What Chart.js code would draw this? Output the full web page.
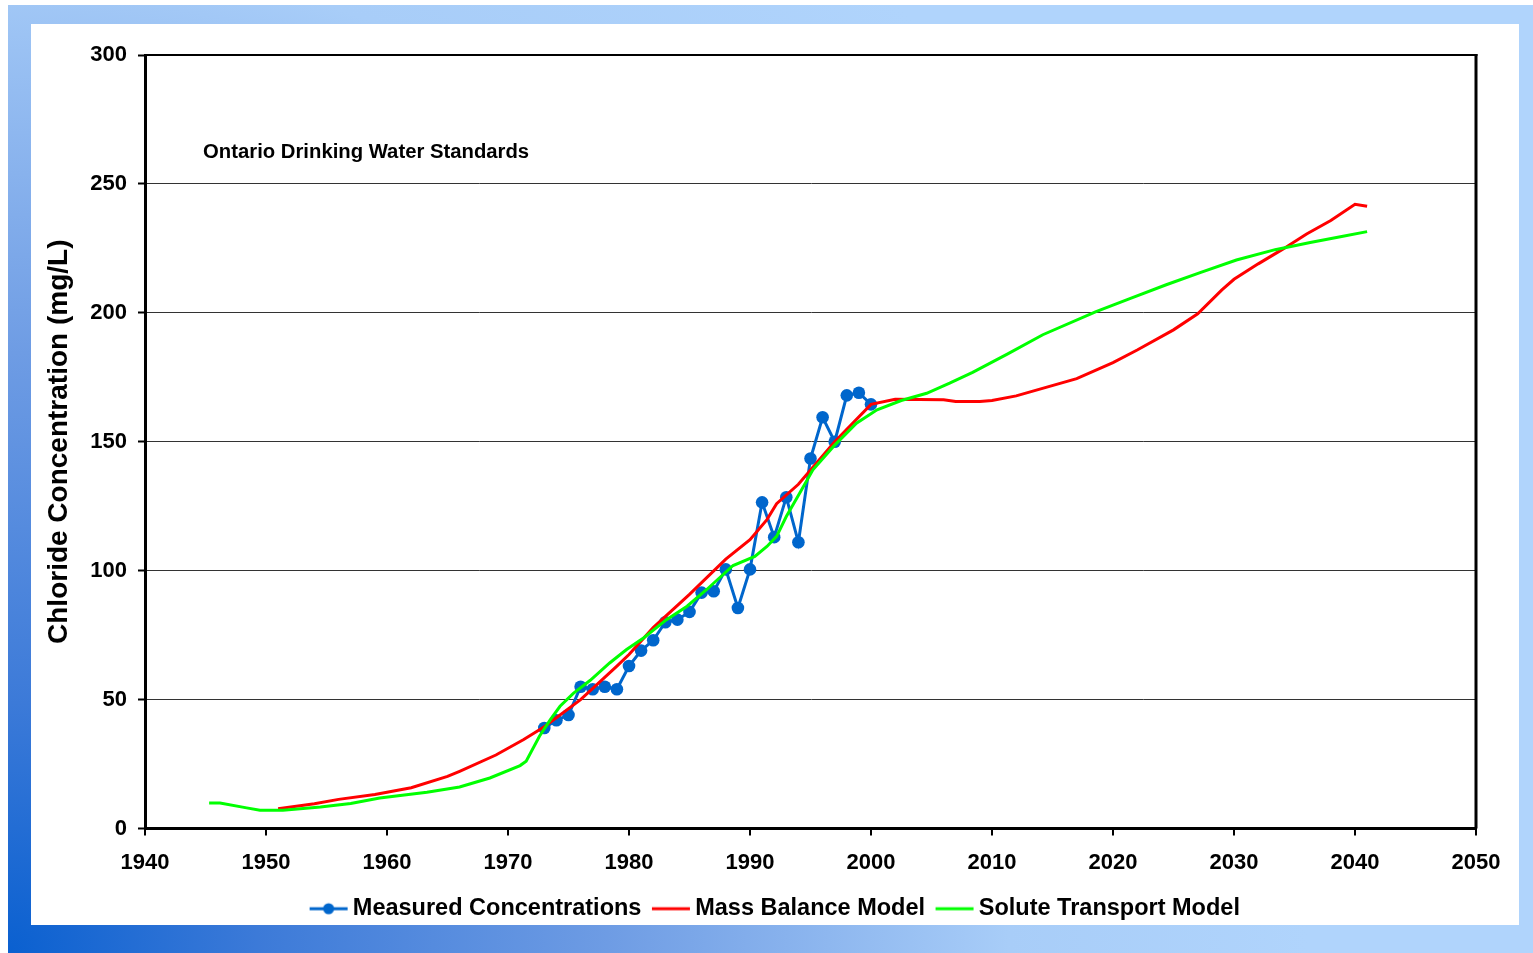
<!DOCTYPE html>
<html>
<head>
<meta charset="utf-8">
<title>Chloride Concentration</title>
<script src="https://cdn.jsdelivr.net/npm/chart.js@4.4.1/dist/chart.umd.min.js"></script>
<style>
  html, body { margin: 0; padding: 0; width: 1533px; height: 953px; overflow: hidden; background: #fff; }
  #frame {
    position: absolute; left: 8px; top: 5px; width: 1525px; height: 948px;
    background: radial-gradient(circle 1400px at 0% 100%, #0a60d0 0px, #3c7ad8 250px, #6e9ce4 600px, #a8cdf8 1000px, #b0d4fc 1300px);
  }
  #panel { position: absolute; left: 31px; top: 24px; width: 1488px; height: 901px; background: #fff; }
  #chart { position: absolute; left: 0; top: 0; }
</style>
</head>
<body>
<div id="frame"></div>
<div id="panel"></div>
<canvas id="chart" width="1533" height="953"></canvas>
<script>
// Measured chloride concentrations (mg/L), one sample per year
const measuredYears = [1973, 1974, 1975, 1976, 1977, 1978, 1979, 1980, 1981, 1982, 1983, 1984, 1985, 1986,
                       1987, 1988, 1989, 1990, 1991, 1992, 1993, 1994, 1995, 1996, 1997, 1998, 1999, 2000];
const measuredValues = [39, 42, 44, 55, 54, 55, 54, 63, 69, 73, 80, 81, 84, 91.5,
                        92, 100.5, 85.5, 100.5, 126.5, 113, 128.5, 111, 143.5, 159.5, 150, 168, 169, 164.5];

// Mass balance model prediction
const massBalanceYears = [1951, 1954, 1956, 1959, 1962, 1965, 1966, 1969, 1971.3, 1973, 1976, 1979, 1980, 1982,
                          1985, 1988, 1990, 1991.4, 1992.2, 1994, 1997, 2000, 2002, 2006, 2007, 2009, 2010, 2012,
                          2017, 2020, 2022, 2025, 2027, 2029, 2030, 2032, 2034, 2036, 2038, 2040, 2041];
const massBalanceValues = [7.7, 9.6, 11.3, 13.2, 15.8, 20.2, 22.2, 28.5, 34.5, 39.5, 50, 63, 67.5, 77.9,
                           90.8, 104.5, 112, 119.8, 126, 133.5, 150, 164.5, 166.5, 166.3, 165.6, 165.6, 166, 167.8,
                           174.5, 180.7, 185.6, 193.4, 199.6, 208.9, 213, 219, 224.6, 230.6, 235.8, 242.1, 241.3];

// Solute transport model prediction
const soluteYears = [1945.3, 1946.2, 1948.4, 1949.5, 1951.4, 1954.5, 1957, 1959.4, 1963.3, 1966, 1968.5, 1971, 1971.5,
                     1972.6, 1973.5, 1974.3, 1975.4, 1976.8, 1978.4, 1979.8, 1981.2, 1983.1, 1984.8, 1986.4, 1988.6,
                     1990.4, 1991.4, 1992.2, 1993, 1994.1, 1995.2, 1996.9, 1998.8, 2000.5, 2002.5, 2004.6, 2006.5,
                     2008.4, 2011.3, 2014.2, 2018.6, 2021.5, 2024.4, 2027.2, 2030.2, 2033.4, 2036.3, 2038.9, 2041];
const soluteValues = [9.9, 9.9, 8.0, 7.1, 7.1, 8.3, 9.7, 11.8, 14.1, 16.1, 19.6, 24.4, 26.1,
                      35.8, 42.2, 47.4, 52.4, 57.5, 64.2, 69.4, 73.9, 81.0, 86.2, 92.6, 102,
                      105.5, 109.4, 113.3, 121, 130, 139.1, 148.2, 157.2, 162.4, 166, 168.8, 172.7,
                      176.9, 184.1, 191.5, 200.5, 205.7, 210.9, 215.6, 220.5, 224.5, 227.3, 229.6, 231.5];

const seriesNames = ['Measured Concentrations', 'Mass Balance Model', 'Solute Transport Model'];
const seriesColors = ['#0066CC', '#FF0000', '#00FF00'];

// Axis ticks
const xTickMin = 1940, xTickMax = 2050, xTickStep = 10;
const yTickMin = 0, yTickMax = 300, yTickStep = 50;

const noteText = 'Ontario Drinking Water Standards';
const noteYear = 1944.8, noteLevel = 262.3;

const FONT = 'Liberation Sans, Arial, Helvetica, sans-serif';
Chart.defaults.font.family = FONT;
Chart.defaults.color = '#000';

const toPoints = (xs, ys) => xs.map((x, i) => ({ x, y: ys[i] }));

// Small line (+ marker) swatch used as the legend symbol
function legendSwatch(color, withMarker) {
  const c = document.createElement('canvas');
  c.width = 40; c.height = 14;
  const g = c.getContext('2d');
  g.strokeStyle = color; g.lineWidth = 3;
  g.beginPath(); g.moveTo(1, 7); g.lineTo(39, 7); g.stroke();
  if (withMarker) {
    g.fillStyle = color;
    g.beginPath(); g.arc(20, 7, 5.5, 0, Math.PI * 2); g.fill();
  }
  return c;
}
const swatches = [legendSwatch(seriesColors[0], true), legendSwatch(seriesColors[1], false), legendSwatch(seriesColors[2], false)];

// Black frame on the top and right of the plot area, plus the in-plot note
const plotExtras = {
  id: 'plotExtras',
  afterDraw(chart) {
    const { ctx, chartArea: a, scales } = chart;
    ctx.save();
    ctx.strokeStyle = '#000';
    ctx.lineWidth = 2;
    ctx.beginPath(); ctx.moveTo(a.left, a.top); ctx.lineTo(a.right + 1.5, a.top); ctx.stroke();
    ctx.lineWidth = 3;
    ctx.beginPath(); ctx.moveTo(a.right, a.top - 1); ctx.lineTo(a.right, a.bottom); ctx.stroke();
    ctx.fillStyle = '#000';
    ctx.font = 'bold 20.3px ' + FONT;
    ctx.textAlign = 'left';
    ctx.textBaseline = 'middle';
    ctx.fillText(noteText, scales.x.getPixelForValue(noteYear), scales.y.getPixelForValue(noteLevel));
    ctx.restore();
  }
};

new Chart(document.getElementById('chart'), {
  type: 'line',
  data: {
    datasets: [
      {
        label: seriesNames[0],
        data: toPoints(measuredYears, measuredValues),
        borderColor: seriesColors[0], backgroundColor: seriesColors[0],
        borderWidth: 3, pointRadius: 6.3, pointHoverRadius: 6.3, pointBorderWidth: 0,
        pointBackgroundColor: seriesColors[0], tension: 0, order: 3
      },
      {
        label: seriesNames[1],
        data: toPoints(massBalanceYears, massBalanceValues),
        borderColor: seriesColors[1], backgroundColor: seriesColors[1],
        borderWidth: 3, pointRadius: 0, tension: 0, order: 2
      },
      {
        label: seriesNames[2],
        data: toPoints(soluteYears, soluteValues),
        borderColor: seriesColors[2], backgroundColor: seriesColors[2],
        borderWidth: 3, pointRadius: 0, tension: 0, order: 1
      }
    ]
  },
  options: {
    responsive: false,
    animation: false,
    devicePixelRatio: 1,
    events: [],
    layout: { padding: { left: 80, right: 57, top: 55, bottom: 22.5 } },
    scales: {
      x: {
        type: 'linear', min: xTickMin, max: xTickMax,
        afterFit(s) { s.height = 51.5; },
        ticks: { stepSize: xTickStep, padding: 14, color: '#000', font: { size: 22, weight: 'bold' }, callback: v => String(v) },
        grid: { drawOnChartArea: false, drawTicks: true, tickLength: 7, color: '#000', lineWidth: 2 },
        border: { color: '#000', width: 3 }
      },
      y: {
        type: 'linear', min: yTickMin, max: yTickMax,
        afterFit(s) { s.width = 65; },
        ticks: { stepSize: yTickStep, padding: 11, color: '#000', font: { size: 22, weight: 'bold' } },
        grid: { color: '#333', lineWidth: 1, tickLength: 7, tickColor: '#000', tickWidth: 2 },
        border: { color: '#000', width: 3 },
        title: {
          display: true, text: 'Chloride Concentration (mg/L)', color: '#000',
          font: { size: 28, weight: 'bold' }, padding: { top: -38, bottom: 0 }
        }
      }
    },
    plugins: {
      tooltip: { enabled: false },
      legend: {
        position: 'bottom',
        labels: {
          usePointStyle: true,
          pointStyleWidth: 25,
          padding: 17,
          color: '#000',
          font: { size: 23.5, weight: 'bold' },
          sort: (a, b) => a.datasetIndex - b.datasetIndex,
          generateLabels(chart) {
            return chart.data.datasets.map((ds, i) => ({
              text: ds.label, pointStyle: swatches[i], datasetIndex: i, hidden: false,
              lineWidth: 0, strokeStyle: ds.borderColor, fillStyle: ds.borderColor, fontColor: '#000'
            }));
          }
        }
      }
    }
  },
  plugins: [plotExtras]
});
</script>
</body>
</html>
